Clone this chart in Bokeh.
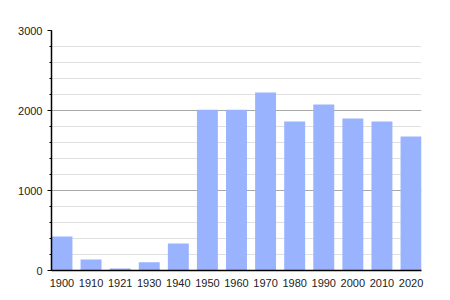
from bokeh.plotting import figure
from bokeh.models import Range1d, FixedTicker, ColumnDataSource
from bokeh.embed import file_html
from bokeh.resources import INLINE

years = ["1900", "1910", "1921", "1930", "1940", "1950", "1960",
         "1970", "1980", "1990", "2000", "2010", "2020"]
population = [425, 137, 25, 102, 337, 2009, 2009, 2225, 1862, 2075, 1900, 1862, 1675]
y_ticks = [0, 1000, 2000, 3000]
y_minor = [v for v in range(0, 3001, 200)]

xs = list(range(len(years)))
src = ColumnDataSource(dict(x=xs, top=population, label=years))

p = figure(width=450, height=300, output_backend="svg", toolbar_location=None,
           x_range=Range1d(-0.36, len(years) - 1 + 0.36), y_range=Range1d(0, 3000),
           min_border_left=51, min_border_right=29, min_border_top=30, min_border_bottom=30)
p.background_fill_color = "white"
p.border_fill_color = "white"
p.outline_line_color = None

p.vbar(x="x", top="top", width=0.72, bottom=0, source=src,
       fill_color="#99b3ff", line_color=None)

# x axis
p.xaxis.ticker = FixedTicker(ticks=xs)
p.xaxis.major_label_overrides = {i: y for i, y in zip(xs, years)}
p.xaxis.major_tick_line_color = None
p.xaxis.minor_tick_line_color = None
p.xaxis.axis_line_color = "black"
p.xaxis.axis_line_width = 1.5
p.xaxis.major_label_text_font = "Liberation Sans"
p.xaxis.major_label_text_font_size = "11px"
p.xaxis.major_label_text_color = "#222222"
p.xaxis.major_label_standoff = 2
p.xgrid.grid_line_color = None

# y axis
p.yaxis.ticker = FixedTicker(ticks=y_ticks, minor_ticks=y_minor)
p.yaxis.axis_line_color = "black"
p.yaxis.axis_line_width = 1.5
p.yaxis.major_tick_line_color = "black"
p.yaxis.major_tick_out = 4
p.yaxis.major_tick_in = 0
p.yaxis.minor_tick_line_color = "black"
p.yaxis.minor_tick_out = 2
p.yaxis.minor_tick_in = 0
p.yaxis.major_label_text_font = "Liberation Sans"
p.yaxis.major_label_text_font_size = "11px"
p.yaxis.major_label_text_color = "#222222"
p.yaxis.major_label_standoff = 5
p.ygrid.grid_line_color = "#a8a8a8"
p.ygrid.grid_line_width = 1
p.ygrid.minor_grid_line_color = "#e0e0e0"
p.ygrid.minor_grid_line_width = 1

open("out.html", "w").write(file_html(p, INLINE))
